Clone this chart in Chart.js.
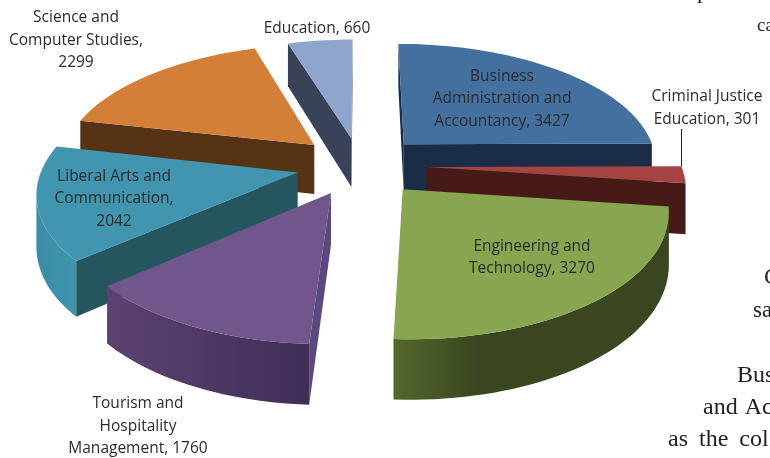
<!DOCTYPE html>
<html>
<head>
<meta charset="utf-8">
<title>Enrollment by college</title>
<script src="https://cdn.jsdelivr.net/npm/chart.js@4/dist/chart.umd.min.js"></script>
<style>
    html, body { margin: 0; padding: 0; background: #fff; overflow: hidden; }
    canvas { display: block; }
</style>
</head>
<body>
<canvas id="collegeChart" width="770" height="458"></canvas>
<script>
const categories = [
    "Business Administration and Accountancy",
    "Criminal Justice Education",
    "Engineering and Technology",
    "Tourism and Hospitality Management",
    "Liberal Arts and Communication",
    "Science and Computer Studies",
    "Education"
];
const enrollees = [3427, 301, 3270, 1760, 2042, 2299, 660];

// wrapped label text, the count gets appended to the last line
const labelLines = [
    ["Business", "Administration and", "Accountancy,"],
    ["Criminal Justice", "Education,"],
    ["Engineering and", "Technology,"],
    ["Tourism and", "Hospitality", "Management, "],
    ["Liberal Arts and", "Communication,", ""],
    ["Science and", "Computer Studies,", ""],
    ["Education,"]
];
const labelSpots = [[502, 76.5], [707, 97], [532, 246.5], [138, 404], [114, 176.5], [76, 18], [317, 28.5]];

const slicePull = [50, 52, 51, 50, 50, 50, 46];
const topColors = ["#44709f", "#a44340", "#88a550", "#70568a", "#4195ae", "#d47f38", "#8fa5ce"];
const wallColors = ["#1b2d46", "#451a17", "#3a4720", "#5c4880", "#25565f", "#573315", "#3a4258"];
// left colour, right colour, and where along the rim the right colour is reached
const rimColors = [
    ["#1b2d46", "#1b2d46", 1],
    ["#451a17", "#451a17", 1],
    ["#55682c", "#39461f", 0.3],
    ["#5c4272", "#3f2f55", 1],
    ["#3b8ca6", "#3e95ab", 1],
    ["#573315", "#573315", 1],
    ["#3a4258", "#3a4258", 1]
];

// running text of the page around the chart
const pageText = [
    ["p", 697, -2, 23, 0],
    ["ca", 757, 31, 19, 0],
    ["C", 764, 284, 24, 0],
    ["sa", 753, 317, 23, 0],
    ["Bus", 737, 382, 24, 0],
    ["and Ac", 703, 414, 24, 1],
    ["as the col", 668, 446, 24, 5]
];

// floor-plane perspective
const view = { cx: 360, cy: 165, ax: 254.7, ay: 120.4, tilt: 0.145, depth: 50 };

function project(u, v, drop) {
    const w = 1 - view.tilt * v;
    return {
        x: view.cx + view.ax * u / w,
        y: view.cy + (view.ay * v + (drop ? view.depth : 0)) / w
    };
}

function tracePath(ctx, pts) {
    ctx.beginPath();
    pts.forEach((p, i) => i ? ctx.lineTo(p.x, p.y) : ctx.moveTo(p.x, p.y));
    ctx.closePath();
}

function signedArea(pts) {
    let sum = 0;
    pts.forEach((p, i) => {
        const q = pts[(i + 1) % pts.length];
        sum += p.x * q.y - q.x * p.y;
    });
    return sum;
}

function drawSlice(ctx, arc, i) {
    const r = arc.outerRadius;
    const mid = (arc.startAngle + arc.endAngle) / 2;
    const pull = arc.options.offset / r;
    const ou = Math.cos(mid) * pull, ov = Math.sin(mid) * pull;
    const steps = Math.ceil((arc.endAngle - arc.startAngle) * 30);

    const top = [], low = [];
    for (let s = 0; s <= steps; s++) {
        const a = arc.startAngle + (arc.endAngle - arc.startAngle) * s / steps;
        top.push(project(ou + Math.cos(a), ov + Math.sin(a), false));
        low.push(project(ou + Math.cos(a), ov + Math.sin(a), true));
    }
    const apex = project(ou, ov, false), apexLow = project(ou, ov, true);
    const last = steps;

    const startWall = [apex, top[0], low[0], apexLow];
    const endWall = [top[last], apex, apexLow, low[last]];
    [startWall, endWall].forEach(face => {
        if (signedArea(face) < 0) {
            ctx.fillStyle = wallColors[i];
            tracePath(ctx, face);
            ctx.fill();
        }
    });

    // outer rim, only the part turned to the viewer
    const upper = [], lower = [];
    for (let s = 0; s < steps; s++) {
        if (signedArea([top[s], top[s + 1], low[s + 1], low[s]]) < 0) {
            if (!upper.length) { upper.push(top[s]); lower.push(low[s]); }
            upper.push(top[s + 1]);
            lower.push(low[s + 1]);
        }
    }
    if (upper.length) {
        const xs = upper.map(p => p.x);
        const grad = ctx.createLinearGradient(Math.min(...xs), 0, Math.max(...xs), 0);
        grad.addColorStop(0, rimColors[i][0]);
        grad.addColorStop(rimColors[i][2], rimColors[i][1]);
        ctx.fillStyle = grad;
        tracePath(ctx, upper.concat(lower.reverse()));
        ctx.fill();
    }

    ctx.fillStyle = topColors[i];
    tracePath(ctx, [apex].concat(top));
    ctx.fill();
}

const pie3d = {
    id: 'pie3d',
    beforeDatasetsDraw(chart) {
        const ctx = chart.ctx;
        const arcs = chart.getDatasetMeta(0).data;
        const order = arcs.map((arc, i) => i).sort((a, b) => {
            const depth = k => Math.sin((arcs[k].startAngle + arcs[k].endAngle) / 2);
            return depth(a) - depth(b);
        });
        ctx.save();
        order.forEach(i => drawSlice(ctx, arcs[i], i));
        ctx.restore();
        return false;
    },
    afterDraw(chart) {
        const ctx = chart.ctx;
        const arc = chart.getDatasetMeta(0).data[1];
        const mid = (arc.startAngle + arc.endAngle) / 2;
        const pull = arc.options.offset / arc.outerRadius;
        const corner = project(Math.cos(mid) * pull + Math.cos(arc.startAngle),
            Math.sin(mid) * pull + Math.sin(arc.startAngle), false);

        ctx.save();
        // leader of the narrow slice
        ctx.strokeStyle = "#222";
        ctx.lineWidth = 1;
        ctx.beginPath();
        ctx.moveTo(Math.round(corner.x) + 0.5, 129);
        ctx.lineTo(Math.round(corner.x) + 0.5, corner.y);
        ctx.stroke();

        ctx.fillStyle = "#2b2b2b";
        ctx.font = '15.5px "Open Sans"';
        ctx.textAlign = "center";
        ctx.textBaseline = "middle";
        labelLines.forEach((lines, i) => {
            lines.forEach((line, n) => {
                let text = line;
                if (n === lines.length - 1) {
                    text = (line === "" || line.endsWith(" ")) ? line + enrollees[i] : line + " " + enrollees[i];
                }
                ctx.fillText(text, labelSpots[i][0], labelSpots[i][1] + n * 22.3);
            });
        });

        ctx.fillStyle = "#222";
        ctx.textAlign = "left";
        ctx.textBaseline = "alphabetic";
        pageText.forEach(t => {
            ctx.font = t[3] + 'px "Liberation Serif"';
            ctx.wordSpacing = t[4] + "px";
            ctx.fillText(t[0], t[1], t[2]);
        });
        ctx.restore();
    }
};

new Chart(document.getElementById('collegeChart').getContext('2d'), {
    type: 'pie',
    data: {
        labels: categories,
        datasets: [{
            data: enrollees,
            backgroundColor: topColors,
            offset: slicePull,
            borderWidth: 0
        }]
    },
    options: {
        responsive: false,
        animation: false,
        radius: 200,
        events: [],
        plugins: {
            legend: { display: false },
            tooltip: { enabled: false }
        }
    },
    plugins: [pie3d]
});
</script>
</body>
</html>
